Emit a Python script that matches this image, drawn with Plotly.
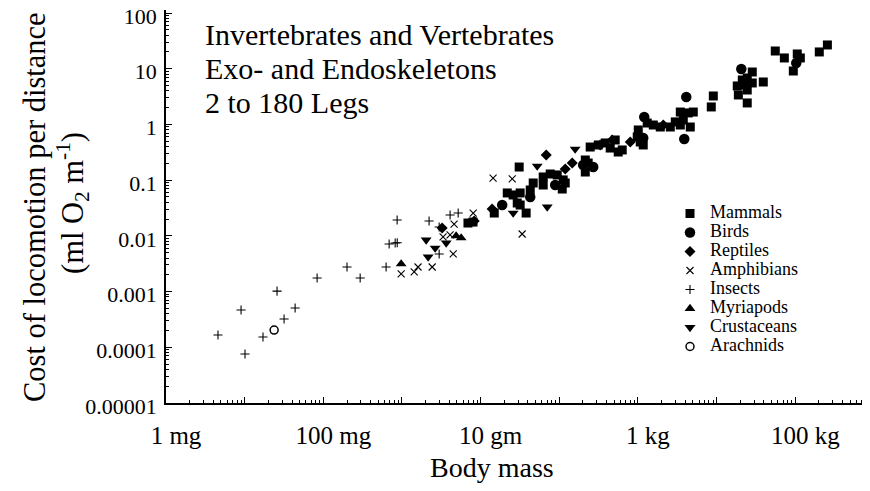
import plotly.graph_objects as go

# body mass in grams, cost of locomotion in ml O2 per metre
mammals_mass = [6.9, 8.0, 14.9, 30.9, 37.9, 21.8, 25.9, 31.8, 29.2, 31.8, 46.6, 42.7,
                62.4, 62.4, 76.6, 94.1, 112, 119, 109, 214, 233, 214, 247, 313, 384,
                444, 514, 561, 631, 979, 1009, 1069, 1167, 1312, 1566, 1923, 2578,
                2985, 3454, 3770, 4363, 5051, 4624, 3454, 9079, 8554, 28400, 21200,
                18300, 24500, 28400, 39200, 24500, 18900, 24500, 23200, 55700, 72600,
                106000, 116000, 94400, 202000, 256000]
mammals_cost = [0.017, 0.0177, 0.0257, 0.172, 0.0257, 0.0589, 0.0542, 0.0589, 0.0389,
                0.0358, 0.0889, 0.0665, 0.0818, 0.114, 0.129, 0.124, 0.101, 0.0889,
                0.0693, 0.140, 0.203, 0.230, 0.393, 0.428, 0.465, 0.377, 0.526, 0.320,
                0.348, 0.596, 0.795, 0.484, 0.428, 1.06, 0.977, 0.899, 0.899, 1.11,
                1.67, 1.20, 1.61, 1.67, 0.899, 0.977, 3.24, 2.06, 8.73, 6.28, 4.90,
                6.82, 5.55, 5.78, 4.15, 3.38, 2.43, 5.11, 20.8, 15.6, 18.4, 15.6, 9.1,
                20.0, 26.7]

birds_mass = [18.8, 42.7, 201, 270, 1167, 1202, 3880, 4115, 20600, 103000, 88.7]
birds_cost = [0.0358, 0.0499, 0.187, 0.172, 0.571, 1.36, 0.548, 3.11, 9.9, 12.7, 0.0818]

reptiles_mass = [3.24, 8.28, 14.0, 68.2, 119, 146, 798, 471, 331, 2099]
reptiles_cost = [0.0138, 0.0185, 0.0303, 0.283, 0.158, 0.203, 0.484, 0.526, 0.428, 0.977]

amphibians_mass = [0.976, 1.43, 1.60, 2.42, 3.33, 4.09, 4.60, 4.48, 8.04, 14.4, 25.2, 33.7]
amphibians_cost = [0.00207, 0.00225, 0.00276, 0.00276, 0.00955, 0.0104, 0.0163,
                   0.00473, 0.0257, 0.109, 0.105, 0.0108]

insects_mass = [0.00458, 0.0090, 0.0101, 0.0171, 0.0258, 0.0317, 0.0438, 0.0834, 0.200,
                0.294, 0.628, 0.687, 0.819, 0.87, 0.868, 2.21, 2.97, 4.09, 5.18, 2.97]
insects_cost = [0.000166, 0.000467, 0.0000759, 0.000153, 0.00102, 0.000322, 0.000507,
                0.00175, 0.00276, 0.00175, 0.00276, 0.00714, 0.00745, 0.0075, 0.0193,
                0.0185, 0.0144, 0.0237, 0.0257, 0.00473]

myriapods_mass = [0.976, 4.88, 5.65]
myriapods_cost = [0.00313, 0.00995, 0.00916]

crustaceans_mass = [2.03, 2.64, 2.15, 3.65, 25.9, 52.4, 70.2, 159]
crustaceans_cost = [0.00843, 0.00605, 0.00418, 0.00745, 0.0257, 0.179, 0.033, 0.362]

arachnids_mass = [0.0237]
arachnids_cost = [0.000204]

x_tickvals = [1e-3, 1e-2, 1e-1, 1, 10, 1e2, 1e3, 1e4, 1e5]
x_ticktext = ["1 mg", "", "100 mg", "", "10 gm", "", "1 kg", "", "100 kg"]
y_tickvals = [1e-5, 1e-4, 1e-3, 1e-2, 1e-1, 1, 10, 100]
y_ticktext = ["0.00001", "0.0001", "0.001", "0.01", "0.1", "1", "10", "100"]

FONT = "'Liberation Serif', 'Times New Roman', 'DejaVu Serif', serif"

series = [
    ("Mammals", mammals_mass, mammals_cost, dict(symbol="square", size=9)),
    ("Birds", birds_mass, birds_cost, dict(symbol="circle", size=10.5)),
    ("Reptiles", reptiles_mass, reptiles_cost, dict(symbol="diamond", size=8.5)),
    ("Amphibians", amphibians_mass, amphibians_cost,
     dict(symbol="x-thin", size=7, line=dict(width=1.1, color="black"))),
    ("Insects", insects_mass, insects_cost,
     dict(symbol="cross-thin", size=6.5, line=dict(width=1.1, color="black"))),
    ("Myriapods", myriapods_mass, myriapods_cost, dict(symbol="triangle-up", size=9.5)),
    ("Crustaceans", crustaceans_mass, crustaceans_cost, dict(symbol="triangle-down", size=9.5)),
    ("Arachnids", arachnids_mass, arachnids_cost,
     dict(symbol="circle-open", size=8, line=dict(width=1.5, color="black"))),
]

fig = go.Figure()
for name, xs, ys, mk in series:
    mk = dict(mk, color="black")
    if "line" not in mk:
        mk["line"] = dict(width=0)
    fig.add_trace(go.Scatter(
        x=xs, y=ys, mode="markers", marker=mk,
        # legend spacing is computed from legend.font.size, text drawn bigger
        name=f'<span style="font-size:18px">{name}</span>',
    ))

# minor log ticks 2..9 in each decade
minor_x = [k * 10.0 ** d for d in range(-3, 6) for k in range(2, 10)]
minor_y = [k * 10.0 ** d for d in range(-5, 2) for k in range(2, 10)]

fig.update_xaxes(
    type="log", range=[-3, 5.95], automargin=False,
    tickmode="array", tickvals=x_tickvals, ticktext=x_ticktext,
    ticks="inside", ticklen=6, tickwidth=1, tickcolor="black",
    ticklabelstandoff=9, ticklabelshift=10, ticklabeloverflow="allow",
    minor=dict(tickvals=minor_x, ticks="inside", ticklen=3, tickcolor="black", showgrid=False),
    showline=True, linecolor="black", linewidth=1.5,
    showgrid=False, zeroline=False,
    tickfont=dict(family=FONT, size=25, color="black"),
)
fig.update_yaxes(
    type="log", range=[-5, 2.054], automargin=False,
    tickmode="array", tickvals=y_tickvals, ticktext=y_ticktext,
    ticks="inside", ticklen=6, tickwidth=1, tickcolor="black",
    ticklabelstandoff=3, ticklabelshift=3, ticklabeloverflow="allow",
    minor=dict(tickvals=minor_y, ticks="inside", ticklen=3, tickcolor="black", showgrid=False),
    showline=True, linecolor="black", linewidth=1.5,
    showgrid=False, zeroline=False,
    tickfont=dict(family=FONT, size=22, color="black"),
)

# plot area in page pixels; the page body adds an 8px offset to the figure
PLOT_W, PLOT_H, LEFT, TOP = 704, 393, 166, 10
OFFSET = 8


def px(x):
    return (x - LEFT) / PLOT_W


def py(y):
    return (TOP + PLOT_H - y) / PLOT_H


notes = [
    ("Invertebrates and Vertebrates", 35),
    ("Exo- and Endoskeletons", 69),
    ("2 to 180 Legs", 102),
]
for text, yy in notes:
    fig.add_annotation(text=text, xref="paper", yref="paper", x=px(203), y=py(yy),
                       xanchor="left", yanchor="middle", showarrow=False,
                       font=dict(family=FONT, size=30, color="black"))

fig.add_annotation(text="Cost of locomotion per distance", xref="paper", yref="paper",
                   x=px(35), y=py(207), textangle=-90, showarrow=False,
                   xanchor="center", yanchor="middle",
                   font=dict(family=FONT, size=30.5, color="black"))
fig.add_annotation(text="(ml O<sub>2</sub> m<sup>-1</sup>)", xref="paper", yref="paper",
                   x=px(72), y=py(203), textangle=-90, showarrow=False,
                   xanchor="center", yanchor="middle",
                   font=dict(family=FONT, size=30.5, color="black"))
fig.add_annotation(text="Body mass", xref="paper", yref="paper",
                   x=px(492), y=py(467), showarrow=False,
                   xanchor="center", yanchor="middle",
                   font=dict(family=FONT, size=28, color="black"))

fig.update_layout(
    width=870, height=491,
    margin=dict(l=LEFT - OFFSET, r=OFFSET, t=TOP - OFFSET,
                b=491 - (TOP + PLOT_H - OFFSET)),
    plot_bgcolor="white", paper_bgcolor="white",
    font=dict(family=FONT, color="black"),
    showlegend=True,
    legend=dict(x=px(670), y=py(199), xanchor="left", yanchor="top",
                bgcolor="rgba(0,0,0,0)", borderwidth=0, tracegroupgap=0,
                font=dict(family=FONT, size=12, color="black")),
)

fig.write_html("out.html")
